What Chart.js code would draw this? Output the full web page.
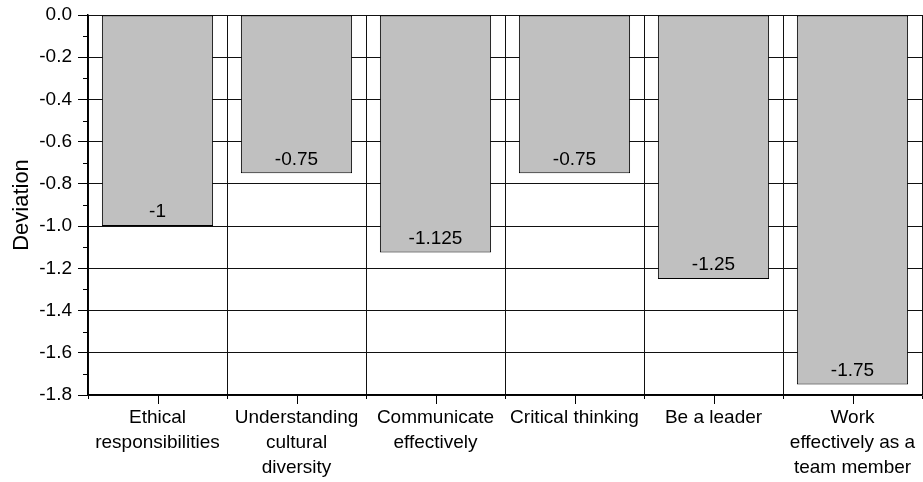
<!DOCTYPE html>
<html>
<head>
<meta charset="utf-8">
<script src="https://cdn.jsdelivr.net/npm/chart.js@4.4.1/dist/chart.umd.min.js"></script>
<style>
  html, body { margin: 0; padding: 0; background: #fff; }
  canvas { display: block; }
</style>
</head>
<body>
<canvas id="devChart" width="923" height="482"></canvas>
<script>
// categories and values
const categories = [
  ['Ethical', 'responsibilities'],
  ['Understanding', 'cultural', 'diversity'],
  ['Communicate', 'effectively'],
  ['Critical thinking'],
  ['Be a leader'],
  ['Work', 'effectively as a', 'team member']
];
const deviation = [-1, -0.75, -1.125, -0.75, -1.25, -1.75];
const yMinorTicks = [-0.1, -0.3, -0.5, -0.7, -0.9, -1.1, -1.3, -1.5, -1.7];

const FONT = 'Liberation Sans, Arial, Helvetica, sans-serif';

// short minor ticks on y, longer tick at centre of each category on x
const axisTicks = {
  id: 'axisTicks',
  afterDraw(chart) {
    const { ctx, scales: { x, y } } = chart;
    ctx.save();
    ctx.strokeStyle = '#000';
    ctx.lineWidth = 1;
    ctx.beginPath();
    yMinorTicks.forEach(v => {
      const py = Math.round(y.getPixelForValue(v)) + 0.5;
      ctx.moveTo(x.left - 5, py);
      ctx.lineTo(x.left, py);
    });
    categories.forEach((c, i) => {
      const px = Math.round(x.getPixelForValue(i)) + 0.5;
      ctx.moveTo(px, y.bottom);
      ctx.lineTo(px, y.bottom + 9);
    });
    ctx.stroke();
    ctx.restore();
  }
};

// value written inside each bar, just above its end
const barValues = {
  id: 'barValues',
  afterDatasetsDraw(chart) {
    const { ctx } = chart;
    const meta = chart.getDatasetMeta(0);
    ctx.save();
    ctx.font = '19px ' + FONT;
    ctx.fillStyle = '#000';
    ctx.textAlign = 'center';
    ctx.textBaseline = 'middle';
    meta.data.forEach((bar, i) => {
      ctx.fillText(String(deviation[i]), bar.x, bar.y - 14);
    });
    ctx.restore();
  }
};

const ctx = document.getElementById('devChart').getContext('2d');

const devChart = new Chart(ctx, {
  type: 'bar',
  data: {
    labels: categories,
    datasets: [{
      data: deviation,
      backgroundColor: '#c0c0c0',
      borderColor: '#000',
      borderWidth: 1,
      borderSkipped: false,
      barPercentage: 0.8,
      categoryPercentage: 1
    }]
  },
  options: {
    responsive: false,
    animation: false,
    layout: { padding: { top: 15, right: 1, left: 0, bottom: 0 } },
    plugins: {
      legend: { display: false },
      tooltip: { enabled: false }
    },
    scales: {
      x: {
        offset: true,
        grid: {
          offset: true,
          color: '#111',
          lineWidth: 1,
          drawTicks: true,
          tickLength: 4,
          tickColor: '#000'
        },
        border: { color: '#000', width: 1.5 },
        ticks: {
          color: '#000',
          font: { family: FONT, size: 19, lineHeight: 1.33 },
          padding: 6,
          maxRotation: 0,
          autoSkip: false
        },
        afterFit(scale) { scale.height = 87; }
      },
      y: {
        min: -1.8,
        max: 0,
        grid: {
          color: '#111',
          lineWidth: 1,
          tickLength: 10,
          tickColor: '#000'
        },
        border: { color: '#000', width: 1.5 },
        ticks: {
          stepSize: 0.2,
          color: '#000',
          font: { family: FONT, size: 19, lineHeight: 1 },
          padding: 6,
          callback: v => (Math.abs(v) < 1e-9 ? 0 : v).toFixed(1)
        },
        title: {
          display: true,
          text: 'Deviation',
          color: '#000',
          font: { family: FONT, size: 22 },
          padding: { top: 9, bottom: 0 }
        },
        afterFit(scale) {
          scale.width = 88;
          scale.paddingTop = 0;
          scale.paddingBottom = 0;
        }
      }
    }
  },
  plugins: [axisTicks, barValues]
});
</script>
</body>
</html>
